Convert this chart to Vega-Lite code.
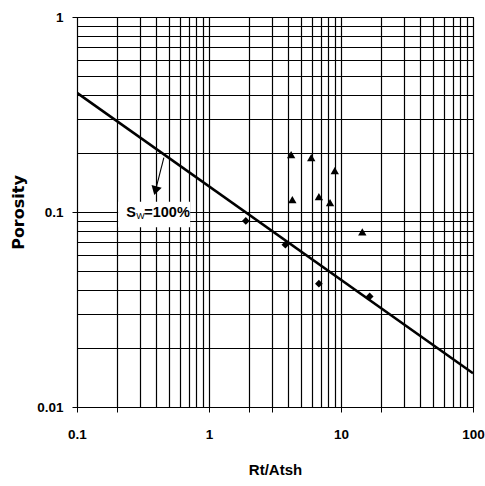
{
  "$schema": "https://vega.github.io/schema/vega-lite/v6.json",
  "width": 396,
  "height": 390,
  "autosize": {"type": "none"},
  "padding": {"left": 77, "top": 17, "right": 12, "bottom": 79},
  "background": "white",
  "config": {
    "view": {"stroke": "#000", "strokeWidth": 1},
    "axis": {
      "gridColor": "#000",
      "gridOpacity": 1,
      "gridWidth": 1.2,
      "domainColor": "#000",
      "tickColor": "#000",
      "tickSize": 5,
      "labelFont": "Liberation Sans",
      "labelFontWeight": "bold",
      "labelFontSize": 13.5,
      "labelColor": "#000",
      "titleFont": "Liberation Sans",
      "titleFontWeight": "bold",
      "titleColor": "#000"
    }
  },
  "datasets": {
    "pts": [
      {"rt": 4.19, "phi": 0.197, "type": "triangle"},
      {"rt": 5.95, "phi": 0.19, "type": "triangle"},
      {"rt": 8.97, "phi": 0.163, "type": "triangle"},
      {"rt": 4.28, "phi": 0.1156, "type": "triangle"},
      {"rt": 6.8, "phi": 0.12, "type": "triangle"},
      {"rt": 8.26, "phi": 0.1116, "type": "triangle"},
      {"rt": 14.5, "phi": 0.079, "type": "triangle"},
      {"rt": 1.9, "phi": 0.09, "type": "diamond"},
      {"rt": 3.79, "phi": 0.068, "type": "diamond"},
      {"rt": 6.8, "phi": 0.0429, "type": "diamond"},
      {"rt": 16.5, "phi": 0.0369, "type": "diamond"}
    ],
    "fit": [
      {"rt": 0.1, "phi": 0.408},
      {"rt": 100, "phi": 0.0149}
    ],
    "box": [
      {"x1": 0.205, "x2": 0.72, "y1": 0.113, "y2": 0.0835}
    ],
    "arrow": [
      {"x1": 0.455, "y1": 0.19, "x2": 0.393, "y2": 0.1286}
    ],
    "label": [
      {"rt": 0.236, "phi": 0.1}
    ]
  },
  "layer": [
    {
      "data": {"name": "fit"},
      "mark": {"type": "line", "color": "#000", "strokeWidth": 2.6, "clip": true},
      "encoding": {
        "x": {
          "field": "rt", "type": "quantitative",
          "scale": {"type": "log", "domain": [0.1, 100], "nice": false},
          "axis": {
            "title": "Rt/Atsh",
            "titleFontSize": 15,
            "titlePadding": 22,
            "labelPadding": 15,
            "values": [0.1,0.2,0.3,0.4,0.5,0.6,0.7,0.8,0.9,1,2,3,4,5,6,7,8,9,10,20,30,40,50,60,70,80,90,100],
            "labelExpr": "indexof([0.1,1,10,100], datum.value) >= 0 ? format(datum.value, '~g') : ''",
            "tickOpacity": {"condition": {"test": "indexof([0.1,0.2,1,2,3,10,20,100], datum.value) >= 0", "value": 1}, "value": 0},
            "labelFlush": false,
            "labelOverlap": false
          }
        },
        "y": {
          "field": "phi", "type": "quantitative",
          "scale": {"type": "log", "domain": [0.01, 1], "nice": false},
          "axis": {
            "title": "Porosity",
            "titleFont": "DejaVu Sans",
            "titleFontSize": 16,
            "titlePadding": 10,
            "labelPadding": 9,
            "values": [0.01,0.02,0.03,0.04,0.05,0.06,0.07,0.08,0.09,0.1,0.2,0.3,0.4,0.5,0.6,0.7,0.8,0.9,1],
            "labelExpr": "indexof([0.01,0.1,1], datum.value) >= 0 ? format(datum.value, '~g') : ''",
            "tickOpacity": {"condition": {"test": "indexof([0.01,0.1,1], datum.value) >= 0", "value": 1}, "value": 0},
            "labelFlush": false,
            "labelOverlap": false
          }
        }
      }
    },
    {
      "data": {"name": "box"},
      "mark": {"type": "rect", "color": "white", "opacity": 1},
      "encoding": {
        "x": {"field": "x1", "type": "quantitative"},
        "x2": {"field": "x2"},
        "y": {"field": "y1", "type": "quantitative"},
        "y2": {"field": "y2"}
      }
    },
    {
      "data": {"name": "arrow"},
      "mark": {"type": "rule", "color": "#000", "strokeWidth": 1.1},
      "encoding": {
        "x": {"field": "x1", "type": "quantitative"},
        "x2": {"field": "x2"},
        "y": {"field": "y1", "type": "quantitative"},
        "y2": {"field": "y2"}
      }
    },
    {
      "data": {"name": "arrow"},
      "mark": {"type": "point", "shape": "triangle-down", "filled": true, "color": "#000", "size": 110, "angle": 15, "opacity": 1},
      "encoding": {
        "x": {"field": "x2", "type": "quantitative"},
        "y": {"field": "y2", "type": "quantitative"}
      }
    },
    {
      "data": {"name": "label"},
      "mark": {"type": "text", "text": "S", "align": "left", "baseline": "middle", "font": "Liberation Sans", "fontWeight": "bold", "fontSize": 14.5, "color": "#000", "dx": 0, "dy": 1},
      "encoding": {
        "x": {"field": "rt", "type": "quantitative"},
        "y": {"field": "phi", "type": "quantitative"}
      }
    },
    {
      "data": {"name": "label"},
      "mark": {"type": "text", "text": "W", "align": "left", "baseline": "middle", "font": "Liberation Sans", "fontSize": 9, "color": "#000", "dx": 10, "dy": 4},
      "encoding": {
        "x": {"field": "rt", "type": "quantitative"},
        "y": {"field": "phi", "type": "quantitative"}
      }
    },
    {
      "data": {"name": "label"},
      "mark": {"type": "text", "text": "=100%", "align": "left", "baseline": "middle", "font": "Liberation Sans", "fontWeight": "bold", "fontSize": 14.5, "color": "#000", "dx": 18, "dy": 1},
      "encoding": {
        "x": {"field": "rt", "type": "quantitative"},
        "y": {"field": "phi", "type": "quantitative"}
      }
    },
    {
      "data": {"name": "pts"},
      "mark": {"type": "point", "filled": true, "color": "#000", "opacity": 1},
      "encoding": {
        "x": {"field": "rt", "type": "quantitative"},
        "y": {"field": "phi", "type": "quantitative"},
        "shape": {
          "field": "type", "type": "nominal",
          "scale": {"domain": ["triangle", "diamond"], "range": ["triangle-up", "diamond"]},
          "legend": null
        },
        "size": {
          "field": "type", "type": "nominal",
          "scale": {"domain": ["triangle", "diamond"], "range": [70, 60]},
          "legend": null
        }
      }
    }
  ]
}
